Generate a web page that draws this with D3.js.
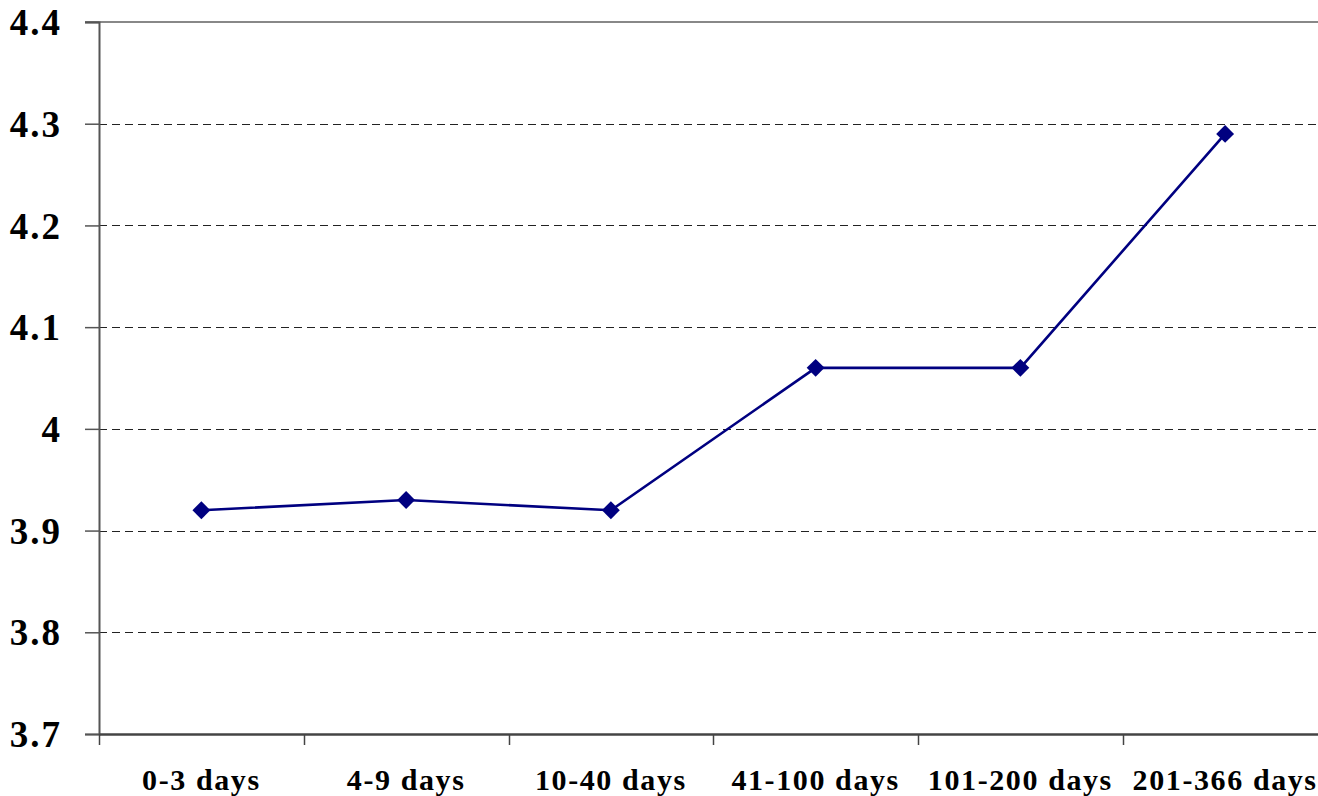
<!DOCTYPE html>
<html>
<head>
<meta charset="utf-8">
<script src="https://cdn.jsdelivr.net/npm/d3@7"></script>
<style>
    body { margin: 0; background: #fff; }
    svg { display: block; }
    .lbl { font-family: "Liberation Serif", "Times New Roman", serif; font-weight: bold; fill: #000; }
</style>
</head>
<body>
<div id="chart"></div>
<script>
    // data
    var categories = ["0-3 days", "4-9 days", "10-40 days", "41-100 days", "101-200 days", "201-366 days"];
    var values = [3.92, 3.93, 3.92, 4.06, 4.06, 4.29];
    var yTicks = [3.7, 3.8, 3.9, 4, 4.1, 4.2, 4.3, 4.4];

    var width = 1318, height = 796;
    var plotLeft = 99, plotRight = 1327.5, plotTop = 22, plotBottom = 734;

    var svg = d3.select("#chart").append("svg").attr("width", width).attr("height", height);

    var x = d3.scaleBand().domain(categories).range([plotLeft, plotRight]);
    var y = d3.scaleLinear().domain([3.7, 4.4]).range([plotBottom, plotTop]);

    // gridlines
    svg.append("g").selectAll("line").data(yTicks.filter(function (d) { return d > 3.7 && d < 4.4; }))
        .enter().append("line")
        .attr("x1", plotLeft).attr("x2", plotRight)
        .attr("y1", function (d) { return Math.round(y(d)) + 0.5; })
        .attr("y2", function (d) { return Math.round(y(d)) + 0.5; })
        .attr("stroke", "#222").attr("stroke-width", 1).attr("stroke-dasharray", "8,5");

    // top border
    svg.append("line").attr("x1", plotLeft - 14).attr("x2", plotRight).attr("y1", y(4.4)).attr("y2", y(4.4))
        .attr("stroke", "#888").attr("stroke-width", 2);

    // y axis
    var yAxis = svg.append("g").attr("transform", "translate(" + plotLeft + ",0)")
        .call(d3.axisLeft(y).tickValues(yTicks).tickSize(14).tickFormat(d3.format("")));
    yAxis.select(".domain").attr("stroke", "#555").attr("stroke-width", 2);
    yAxis.selectAll(".tick line").attr("stroke", "#555").attr("stroke-width", 1.5);
    yAxis.selectAll(".tick text").attr("class", "lbl").attr("x", -37)
        .style("font-size", "37px").style("letter-spacing", "2px").attr("dy", "0.34em");

    // x axis
    var xAxis = svg.append("g").attr("transform", "translate(0," + plotBottom + ")")
        .call(d3.axisBottom(x).tickSize(0).tickPadding(0));
    xAxis.select(".domain").attr("stroke", "#444").attr("stroke-width", 2.5);
    xAxis.selectAll(".tick text").attr("class", "lbl").attr("y", 56).attr("dy", 0)
        .style("font-size", "30px").style("letter-spacing", "1.6px");
    xAxis.selectAll(".bandTick").data(categories).enter().append("line").attr("class", "bandTick")
        .attr("x1", function (d) { return Math.round(x(d)) + 0.5; })
        .attr("x2", function (d) { return Math.round(x(d)) + 0.5; })
        .attr("y1", 0).attr("y2", 11).attr("stroke", "#444").attr("stroke-width", 1.5);

    // line
    var cx = function (d, i) { return x(categories[i]) + x.bandwidth() / 2; };
    var line = d3.line().x(cx).y(function (d) { return y(d); });
    svg.append("path").datum(values).attr("d", line)
        .attr("fill", "none").attr("stroke", "#000080").attr("stroke-width", 2.6);

    // markers
    svg.append("g").selectAll("path").data(values).enter().append("path")
        .attr("d", d3.symbol().type(d3.symbolSquare).size(160))
        .attr("transform", function (d, i) { return "translate(" + cx(d, i) + "," + y(d) + ") rotate(45)"; })
        .attr("fill", "#000080");
</script>
</body>
</html>
